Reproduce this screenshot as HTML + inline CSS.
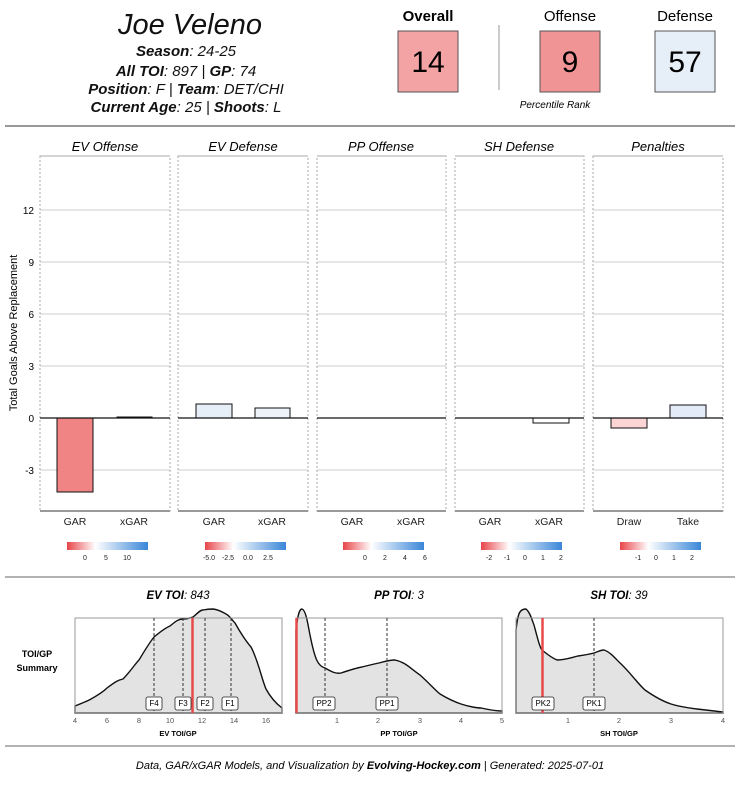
<!DOCTYPE html><html><head><meta charset="utf-8"><style>body{margin:0;background:#fff}svg{display:block;font-family:"Liberation Sans","DejaVu Sans",sans-serif}</style></head><body>
<svg width="740" height="786" viewBox="0 0 740 786" xmlns="http://www.w3.org/2000/svg">
<defs><linearGradient id="g" x1="0" x2="1"><stop offset="0" stop-color="#e8454a"/><stop offset="0.35" stop-color="#fff"/><stop offset="1" stop-color="#3a86d8"/></linearGradient></defs>
<text x="190" y="34" font-size="29" font-style="italic" text-anchor="middle" fill="#111">Joe Veleno</text>
<g font-size="15" font-style="italic" text-anchor="middle" fill="#111">
<text x="186" y="56"><tspan font-weight="bold">Season</tspan>: 24-25</text>
<text x="186" y="76"><tspan font-weight="bold">All TOI</tspan>: 897 | <tspan font-weight="bold">GP</tspan>: 74</text>
<text x="186" y="94"><tspan font-weight="bold">Position</tspan>: F | <tspan font-weight="bold">Team</tspan>: DET/CHI</text>
<text x="186" y="112"><tspan font-weight="bold">Current Age</tspan>: 25 | <tspan font-weight="bold">Shoots</tspan>: L</text></g>
<text x="428" y="21" font-size="15" font-weight="bold" text-anchor="middle">Overall</text>
<text x="570" y="21" font-size="15" text-anchor="middle">Offense</text>
<text x="685" y="21" font-size="15" text-anchor="middle">Defense</text>
<rect x="398" y="31" width="60" height="61" fill="#f4a3a5" stroke="#555"/><text x="428" y="72" font-size="30" text-anchor="middle">14</text>
<rect x="540" y="31" width="60" height="61" fill="#f19496" stroke="#555"/><text x="570" y="72" font-size="30" text-anchor="middle">9</text>
<rect x="655" y="31" width="60" height="61" fill="#e6eef8" stroke="#555"/><text x="685" y="72" font-size="30" text-anchor="middle">57</text>
<line x1="499" y1="25" x2="499" y2="90" stroke="#999"/>
<text x="555" y="108" font-size="10" font-style="italic" text-anchor="middle">Percentile Rank</text>
<line x1="5" y1="126" x2="735" y2="126" stroke="#999" stroke-width="2"/>
<text transform="translate(17,333) rotate(-90)" font-size="11" text-anchor="middle">Total Goals Above Replacement</text>
<g font-size="10" text-anchor="end"><text x="34" y="214">12</text><text x="34" y="266">9</text><text x="34" y="318">6</text><text x="34" y="370">3</text><text x="34" y="422">0</text><text x="34" y="474">-3</text></g>
<g font-size="13" font-style="italic" text-anchor="middle">
<text x="105" y="151">EV Offense</text><text x="243" y="151">EV Defense</text><text x="381" y="151">PP Offense</text><text x="519" y="151">SH Defense</text><text x="658" y="151">Penalties</text></g>
<g stroke="#ccc"><line x1="40" y1="210" x2="723" y2="210"/><line x1="40" y1="262" x2="723" y2="262"/><line x1="40" y1="314" x2="723" y2="314"/><line x1="40" y1="366" x2="723" y2="366"/><line x1="40" y1="470" x2="723" y2="470"/></g>
<g fill="none" stroke="#aaa" stroke-dasharray="2,2">
<rect x="40" y="156" width="130" height="355"/><rect x="178" y="156" width="130" height="355"/><rect x="317" y="156" width="129" height="355"/><rect x="455" y="156" width="129" height="355"/><rect x="593" y="156" width="130" height="355"/></g>
<g fill="#fff"><rect x="170.5" y="140" width="7" height="372"/><rect x="308.5" y="140" width="8" height="372"/><rect x="446.5" y="140" width="8" height="372"/><rect x="584.5" y="140" width="8" height="372"/></g>
<g stroke="#aaa" stroke-width="1"><line x1="40" y1="156" x2="170" y2="156"/><line x1="178" y1="156" x2="308" y2="156"/><line x1="317" y1="156" x2="446" y2="156"/><line x1="455" y1="156" x2="584" y2="156"/><line x1="593" y1="156" x2="723" y2="156"/></g>
<g stroke="#999" stroke-width="2"><line x1="40" y1="511" x2="170" y2="511"/><line x1="178" y1="511" x2="308" y2="511"/><line x1="317" y1="511" x2="446" y2="511"/><line x1="455" y1="511" x2="584" y2="511"/><line x1="593" y1="511" x2="723" y2="511"/></g>
<g stroke="#111" stroke-width="1">
<rect x="57" y="418" width="36" height="74" fill="#f08383"/>
<rect x="117" y="417" width="35" height="1" fill="#ddd"/>
<rect x="196" y="404" width="36" height="14" fill="#e6eef8"/>
<rect x="255" y="408" width="35" height="10" fill="#eef3fa"/>
<rect x="533" y="418" width="36" height="5" fill="#fff"/>
<rect x="611" y="418" width="36" height="10" fill="#fbd4d4"/>
<rect x="670" y="405" width="36" height="13" fill="#e2ebf7"/></g>
<g stroke="#111" stroke-width="1.2"><line x1="40" y1="418" x2="170" y2="418"/><line x1="178" y1="418" x2="308" y2="418"/><line x1="317" y1="418" x2="446" y2="418"/><line x1="455" y1="418" x2="584" y2="418"/><line x1="593" y1="418" x2="723" y2="418"/></g>
<g font-size="10.5" text-anchor="middle" fill="#222">
<text x="75" y="525">GAR</text><text x="134" y="525">xGAR</text><text x="214" y="525">GAR</text><text x="272" y="525">xGAR</text><text x="352" y="525">GAR</text><text x="411" y="525">xGAR</text><text x="490" y="525">GAR</text><text x="549" y="525">xGAR</text><text x="629" y="525">Draw</text><text x="688" y="525">Take</text></g>
<g fill="url(#g)"><rect x="67" y="542" width="81" height="8"/><rect x="205" y="542" width="81" height="8"/><rect x="343" y="542" width="81" height="8"/><rect x="481" y="542" width="81" height="8"/><rect x="620" y="542" width="81" height="8"/></g>
<g font-size="7" text-anchor="middle" fill="#222">
<text x="85" y="560">0</text><text x="106" y="560">5</text><text x="127" y="560">10</text>
<text x="209" y="560">-5.0</text><text x="228" y="560">-2.5</text><text x="248" y="560">0.0</text><text x="268" y="560">2.5</text>
<text x="365" y="560">0</text><text x="385" y="560">2</text><text x="405" y="560">4</text><text x="425" y="560">6</text>
<text x="489" y="560">-2</text><text x="507" y="560">-1</text><text x="525" y="560">0</text><text x="543" y="560">1</text><text x="561" y="560">2</text>
<text x="638" y="560">-1</text><text x="656" y="560">0</text><text x="674" y="560">1</text><text x="692" y="560">2</text></g>
<line x1="5" y1="577" x2="735" y2="577" stroke="#999" stroke-width="1.5"/>
<g font-size="11.5" font-style="italic" text-anchor="middle">
<text x="178" y="599"><tspan font-weight="bold">EV TOI</tspan>: 843</text><text x="399" y="599"><tspan font-weight="bold">PP TOI</tspan>: 3</text><text x="619" y="599"><tspan font-weight="bold">SH TOI</tspan>: 39</text></g>
<g font-size="9" font-weight="bold" text-anchor="middle"><text x="37" y="657">TOI/GP</text><text x="37" y="671">Summary</text></g>
<g fill="#e3e3e3" stroke="#111" stroke-width="1.4">
<path d="M75,713 L75,706 C85,702 90,700 91,699 C100,694 105,690 107,688 C115,682 118,680 123,679 C130,672 135,664 139,660 C145,650 150,642 154,637 C160,632 165,628 170,626 C175,622 178,619 183,619 C188,619 190,618 193,617 C198,613 200,610 203,610 C208,609 212,609 213,609 C220,610 222,612 226,614 C230,616 232,620 235,623 C240,632 245,640 251,647 C258,660 262,680 266,689 C272,700 278,705 282,708 L282,713 Z"/>
<path d="M296,713 L296,630 C298,612 300,609 302,609 C306,610 308,625 310,635 C315,660 318,666 325,668 C332,672 336,674 341,673 C350,670 356,668 362,667 C370,665 374,664 379,663 C386,661 390,660 395,660 C405,662 410,668 420,675 C428,682 435,690 440,694 C450,700 458,703 461,704 C470,707 478,708 481,708 C490,710 498,711 502,711 L502,713 Z"/>
<path d="M516,713 L516,630 C518,612 520,609 526,609 C530,612 532,620 534,625 C538,640 540,648 542,650 C548,655 552,658 557,660 C565,660 570,658 578,656 C585,655 590,654 594,653 C598,652 600,650 604,650 C610,652 615,658 619,662 C630,672 638,684 645,690 C655,697 665,702 671,704 C680,707 690,708 697,709 C705,710 715,711 723,712 L723,713 Z"/></g>
<g stroke="#999" stroke-width="1" fill="none"><rect x="75" y="618" width="207" height="95"/><rect x="296" y="618" width="206" height="95"/><rect x="516" y="618" width="207" height="95"/></g>
<g stroke="#333" stroke-dasharray="3,2"><line x1="154" y1="618" x2="154" y2="713"/><line x1="183" y1="618" x2="183" y2="713"/><line x1="205" y1="618" x2="205" y2="713"/><line x1="231" y1="618" x2="231" y2="713"/><line x1="325" y1="618" x2="325" y2="713"/><line x1="387" y1="618" x2="387" y2="713"/><line x1="594" y1="618" x2="594" y2="713"/></g>
<g stroke="#e84a4a" stroke-width="2.5"><line x1="192.5" y1="618" x2="192.5" y2="713"/><line x1="296.5" y1="618" x2="296.5" y2="713"/><line x1="542.5" y1="618" x2="542.5" y2="713"/></g>
<g fill="#fff" stroke="#222" stroke-width="0.8">
<rect x="146" y="697" width="16" height="13" rx="2"/><rect x="175" y="697" width="16" height="13" rx="2"/><rect x="197" y="697" width="16" height="13" rx="2"/><rect x="222" y="697" width="16" height="13" rx="2"/>
<rect x="313" y="697" width="22" height="13" rx="2"/><rect x="376" y="697" width="22" height="13" rx="2"/>
<rect x="532" y="697" width="22" height="13" rx="2"/><rect x="583" y="697" width="22" height="13" rx="2"/></g>
<g font-size="8" text-anchor="middle"><text x="154" y="706">F4</text><text x="183" y="706">F3</text><text x="205" y="706">F2</text><text x="230" y="706">F1</text><text x="324" y="706">PP2</text><text x="387" y="706">PP1</text><text x="543" y="706">PK2</text><text x="594" y="706">PK1</text></g>
<g font-size="7.5" text-anchor="middle" fill="#555">
<text x="75" y="723">4</text><text x="107" y="723">6</text><text x="139" y="723">8</text><text x="170" y="723">10</text><text x="202" y="723">12</text><text x="234" y="723">14</text><text x="266" y="723">16</text>
<text x="337" y="723">1</text><text x="378" y="723">2</text><text x="420" y="723">3</text><text x="461" y="723">4</text><text x="502" y="723">5</text>
<text x="568" y="723">1</text><text x="619" y="723">2</text><text x="671" y="723">3</text><text x="723" y="723">4</text></g>
<g font-size="7.5" font-weight="bold" text-anchor="middle"><text x="178" y="736">EV TOI/GP</text><text x="399" y="736">PP TOI/GP</text><text x="619" y="736">SH TOI/GP</text></g>
<line x1="5" y1="746" x2="735" y2="746" stroke="#999" stroke-width="1.5"/>
<text x="370" y="769" font-size="11" font-style="italic" text-anchor="middle">Data, GAR/xGAR Models, and Visualization by <tspan font-weight="bold">Evolving-Hockey.com</tspan> | Generated: 2025-07-01</text>
</svg></body></html>
